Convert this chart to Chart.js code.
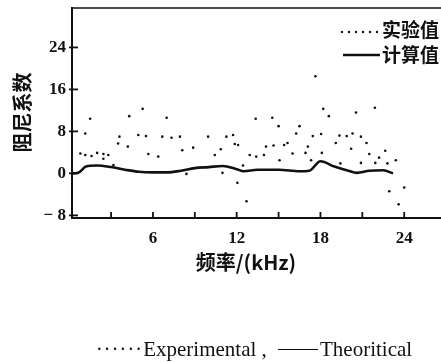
<!DOCTYPE html>
<html>
<head>
<meta charset="utf-8">
<script src="https://cdn.jsdelivr.net/npm/chart.js@4"></script>
<style>
  html, body { margin: 0; padding: 0; background: #fff; }
  #wrap { position: relative; width: 441px; height: 362px; }
  #caption {
    position: absolute; left: 96px; top: 339px; line-height: 21px; white-space: nowrap;
    font-family: "Liberation Serif", serif; font-size: 21px; color: #111;
  }
  #caption .dots { letter-spacing: 1.2px; font-size: 20px; }
  #caption .dash { display: inline-block; width: 40px; border-top: 1px solid #111; vertical-align: 6px; margin: 0 2px 0 6px; }
</style>
</head>
<body>
<div id="wrap">
  <canvas id="chart" width="441" height="362"></canvas>
  <div id="caption"><span class="dots">······</span>Experimental , <span class="dash"></span>Theoritical</div>
</div>
<script>
// frequency (kHz) / damping coefficient
const expFreq = [0.8, 1.15, 1.15, 1.5, 1.6, 2.0, 2.45, 2.45, 2.8, 3.17, 3.5, 3.6, 4.2, 4.3, 4.95, 5.26, 5.5, 5.67,
  6.38, 6.67, 6.98, 7.33, 7.93, 8.1, 8.4, 8.88, 9.95, 10.43, 10.86, 10.98, 11.26, 11.74, 11.86, 12.05, 12.1,
  12.45, 12.7, 12.93, 13.36, 13.4, 13.95, 14.1, 14.55, 14.64, 15.0, 15.07, 15.4, 15.64, 16.0, 16.26, 16.5,
  16.93, 17.1, 17.33, 17.45, 17.64, 18.05, 18.1, 18.2, 18.6, 19.1, 19.36, 19.43, 19.88, 20.2, 20.3, 20.55,
  20.9, 20.9, 21.3, 21.5, 21.9, 21.93, 22.2, 22.64, 22.8, 22.93, 23.4, 23.6, 24.0];
const expVal = [3.8, 7.6, 3.5, 10.4, 3.3, 3.9, 3.7, 2.8, 3.5, 1.6, 5.7, 7.0, 5.1, 10.9, 7.3, 12.3, 7.1, 3.7,
  3.2, 7.0, 10.6, 6.8, 7.0, 4.4, -0.1, 4.9, 7.0, 3.5, 4.6, 0.1, 7.0, 7.3, 5.6, -1.8, 5.4,
  1.5, -5.3, 3.5, 10.4, 3.2, 3.5, 5.1, 10.6, 5.3, 9.0, 2.5, 5.4, 5.8, 3.8, 7.6, 9.0,
  3.9, 5.1, 2.5, 7.1, 18.5, 7.5, 3.9, 12.3, 10.9, 5.8, 7.2, 1.9, 7.1, 4.7, 7.6, 11.6,
  7.0, 2.0, 5.8, 3.7, 12.5, 2.0, 3.0, 4.3, 1.9, -3.4, 2.5, -5.9, -2.7];

const thFreq = [0.25, 0.7, 1.2, 2, 3, 4, 5, 6, 7, 8, 9, 10, 11, 12, 12.5, 13.5, 15, 16.5, 17.2, 18, 19, 20, 20.6, 21.5, 22.5, 23.2];
const thVal = [0, 0.2, 1.3, 1.5, 1.2, 0.7, 0.3, 0.2, 0.2, 0.5, 1.0, 1.2, 1.4, 0.8, 0.4, 0.7, 0.7, 0.4, 0.5, 2.3, 1.3, 0.5, 0.1, 0.5, 0.6, 0];

const xTickLabels = [6, 12, 18, 24];
const xTickMarks = [3, 6, 9, 12, 15, 18, 21, 24];
const yTickLabels = [-8, 0, 8, 16, 24];

const seriesNames = ["实验值", "计算值"];
const xTitle = "频率/(kHz)";

const frame = {
  id: "frame",
  afterDraw(chart) {
    const { ctx, chartArea: a, scales } = chart;
    ctx.save();
    ctx.strokeStyle = "#111";
    ctx.lineWidth = 2;
    ctx.beginPath();
    ctx.moveTo(a.left, a.top);
    ctx.lineTo(a.left, a.bottom);
    ctx.lineTo(chart.width, a.bottom);
    ctx.stroke();
    ctx.lineWidth = 1.5;
    ctx.beginPath();
    ctx.moveTo(a.left, a.top + 1);
    ctx.lineTo(chart.width, a.top + 1);
    ctx.stroke();
    ctx.lineWidth = 1.8;
    xTickMarks.forEach(v => {
      const x = scales.x.getPixelForValue(v);
      ctx.beginPath();
      ctx.moveTo(x, a.bottom);
      ctx.lineTo(x, a.bottom - 6);
      ctx.stroke();
    });
    yTickLabels.forEach(v => {
      const y = scales.y.getPixelForValue(v);
      ctx.beginPath();
      ctx.moveTo(a.left - 3, y);
      ctx.lineTo(a.left + 6, y);
      ctx.stroke();
    });

    ctx.fillStyle = "#111";
    ctx.font = "bold 20px 'Noto Sans CJK SC'";
    ctx.textBaseline = "middle";
    ctx.textAlign = "center";
    ctx.fillText(xTitle, 246, 262);

    // legend, top right
    ctx.font = "bold 19px 'Noto Sans CJK SC'";
    ctx.textAlign = "left";
    for (let i = 0; i < 6; i++) {
      ctx.beginPath();
      ctx.arc(342 + i * 7, 32, 1.2, 0, Math.PI * 2);
      ctx.fill();
    }
    ctx.fillText(chart.data.datasets[0].label, 382, 30);
    ctx.lineWidth = 2.5;
    ctx.beginPath();
    ctx.moveTo(343, 55);
    ctx.lineTo(380, 55);
    ctx.stroke();
    ctx.fillText(chart.data.datasets[1].label, 382, 55);
    ctx.restore();
  }
};

new Chart(document.getElementById("chart"), {
  type: "scatter",
  data: {
    datasets: [
      {
        label: seriesNames[0],
        data: expFreq.map((f, i) => ({ x: f, y: expVal[i] })),
        pointRadius: 1.3,
        pointBackgroundColor: "#111",
        pointBorderWidth: 0,
        showLine: false,
      },
      {
        label: seriesNames[1],
        data: thFreq.map((f, i) => ({ x: f, y: thVal[i] })),
        showLine: true,
        borderColor: "#111",
        borderWidth: 2.6,
        pointRadius: 0,
        cubicInterpolationMode: "monotone",
      },
    ],
  },
  options: {
    responsive: false,
    animation: false,
    layout: { padding: { top: 7, right: 0, left: 0, bottom: 0 } },
    plugins: { legend: { display: false }, tooltip: { enabled: false } },
    scales: {
      x: {
        type: "linear",
        min: 0.2,
        max: 26.35,
        grid: { display: false, drawTicks: false },
        border: { display: false },
        afterFit: s => { s.height = 144; s.paddingLeft = 0; s.paddingRight = 0; },
        afterBuildTicks: s => { s.ticks = xTickLabels.map(v => ({ value: v })); },
        ticks: {
          padding: 10,
          color: "#111",
          font: { family: "Liberation Serif", size: 17, weight: "bold" },
        },
      },
      y: {
        min: -8.5,
        max: 31.7,
        grid: { display: false, drawTicks: false },
        border: { display: false },
        afterFit: s => { s.width = 72; s.paddingTop = 0; s.paddingBottom = 0; },
        afterBuildTicks: s => { s.ticks = yTickLabels.map(v => ({ value: v })); },
        ticks: {
          padding: 6,
          color: "#111",
          font: { family: "Liberation Serif", size: 17, weight: "bold" },
          callback: v => (v < 0 ? "− " + Math.abs(v) : String(v)),
        },
        title: {
          display: true,
          text: "阻尼系数",
          color: "#111",
          font: { family: "Noto Sans CJK SC", size: 20, weight: "bold" },
          padding: { top: 10, bottom: 0 },
        },
      },
    },
  },
  plugins: [frame],
});
</script>
</body>
</html>
